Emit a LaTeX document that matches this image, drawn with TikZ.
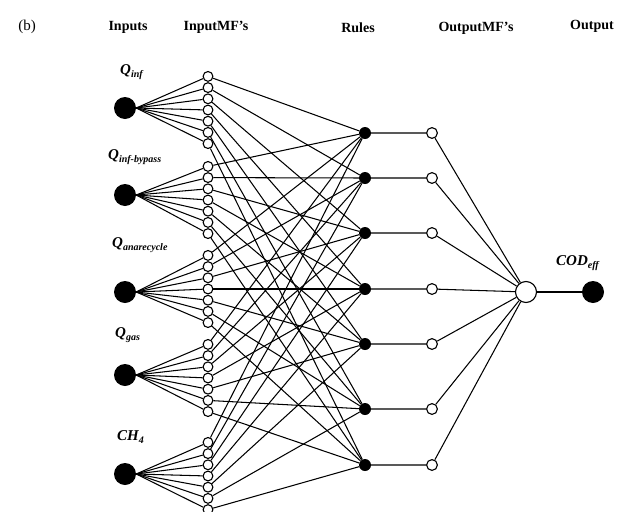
\documentclass[tikz,border=0pt]{standalone}
\usepackage{fontspec}
\setmainfont{Liberation Serif}
\usetikzlibrary{backgrounds}
\newcommand{\sublab}[2]{#1\raisebox{-0.35ex}{\fontsize{10}{10}\selectfont #2}}
\begin{document}
\begin{tikzpicture}
  [x=1pt,y=-1pt,
   link/.style={line width=1.05pt},
   big/.style={circle,fill=black,inner sep=0pt,minimum size=22pt},
   mf/.style={circle,draw,fill=white,inner sep=0pt,minimum size=9.8pt,line width=1.1pt},
   rulenode/.style={circle,fill=black,inner sep=0pt,minimum size=12pt},
   omf/.style={circle,draw,fill=white,inner sep=0pt,minimum size=10.8pt,line width=1.1pt},
   outnode/.style={circle,draw,fill=white,inner sep=0pt,minimum size=21pt,line width=1.1pt},
   head/.style={font=\fontsize{14}{14}\selectfont\bfseries},
   lab/.style={font=\fontsize{15}{15}\selectfont\bfseries\itshape,anchor=west,inner sep=0pt}]
  \useasboundingbox (0,0) rectangle (630,512);
  % headings
  \node[font=\fontsize{15}{15}\selectfont] (tb) at (27,27) {(b)};
  \node[head] (hin) at (128,27) {Inputs};
  \node[head] (hmf) at (216,27) {InputMF’s};
  \node[head] (hru) at (358,28) {Rules};
  \node[head] (hom) at (476,28) {OutputMF’s};
  \node[head] (hout) at (592,26) {Output};
  % inputs
  \node[big] (in1) at (125,108) {};
  \node[big] (in2) at (125,195) {};
  \node[big] (in3) at (125,292) {};
  \node[big] (in4) at (125,375) {};
  \node[big] (in5) at (125,474) {};
  \node[lab] (l1) at (120,72) {\sublab{Q}{inf}};
  \node[lab] (l2) at (108,157) {\sublab{Q}{inf-bypass}};
  \node[lab] (l3) at (112,245) {\sublab{Q}{anarecycle}};
  \node[lab] (l4) at (115,335) {\sublab{Q}{gas}};
  \node[lab] (l5) at (117,437) {\sublab{CH}{4}};
  % input membership functions
  \foreach \i/\c in {1/110,2/200,3/289,4/378,5/476}
    \foreach \k in {1,...,7}
      \node[mf] (mf\i-\k) at (208,{\c+(\k-4)*11.2}) {};
  % rules and output MF's
  \foreach \k/\y in {1/133,2/178,3/233,4/289,5/344,6/409,7/465} {
    \node[rulenode] (r\k) at (365,\y) {};
    \node[omf] (om\k) at (432,\y) {};
  }
  \node[outnode] (out) at (526,292) {};
  \node[big] (cod) at (593,292) {};
  \node[lab] (l6) at (556,263) {\sublab{COD}{eff}};
  \begin{scope}[on background layer]
    \foreach \i in {1,...,5}
      \foreach \k in {1,...,7} {
        \draw[link] (in\i.east) -- (mf\i-\k);
        \draw[link] (mf\i-\k) -- (r\k);
      }
    \foreach \k in {1,...,7}
      \draw[link] (r\k) -- (om\k) -- (out);
    \draw[link] (out) -- (cod);
  \end{scope}
\end{tikzpicture}
\end{document}
